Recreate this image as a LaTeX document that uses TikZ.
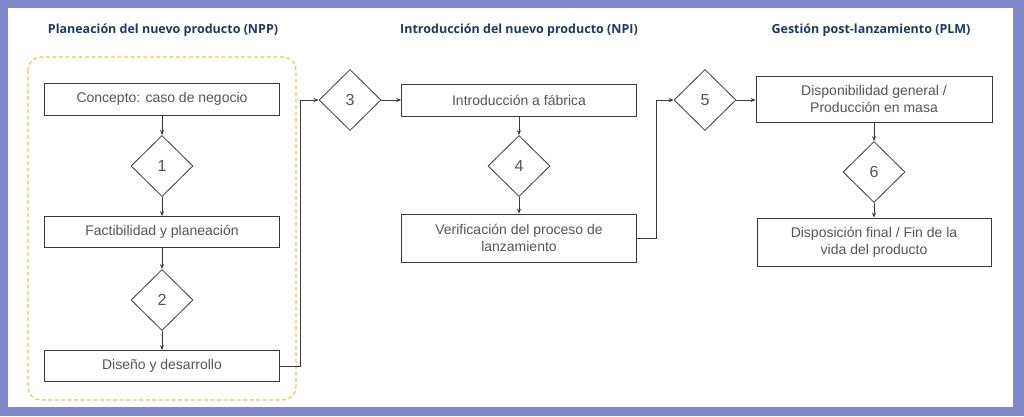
\documentclass[tikz,border=0pt]{standalone}
\usepackage{fontspec}
\setmainfont{Liberation Sans}
\newfontfamily\titlefont{Open Sans}
\usetikzlibrary{shapes.geometric,arrows.meta}
\definecolor{frame}{HTML}{8088CC}
\definecolor{ttl}{HTML}{1F3864}
\definecolor{txt}{HTML}{555555}
\definecolor{ln}{HTML}{3A3A3A}
\definecolor{dashyel}{HTML}{E8C75A}
\tikzset{
 x=1pt,y=-1pt,
 box/.style={draw=ln,line width=0.8pt,fill=white,minimum width=235pt,text=txt,font=\fontsize{14}{17}\selectfont,align=center,inner sep=2pt},
 dia/.style={draw=ln,line width=0.8pt,diamond,fill=white,minimum width=62pt,minimum height=61pt,inner sep=0pt,text=txt,font=\fontsize{16}{18}\selectfont},
 ttl/.style={text=ttl,font=\titlefont\bfseries\fontsize{12.5}{14}\selectfont},
 arr/.style={draw=ln,line width=0.8pt,-{Stealth[length=5pt,width=4pt]}},
}
\begin{document}
\begin{tikzpicture}
\fill[frame] (0,0) rectangle (1024,416);
\fill[white] (8,8) rectangle (1013,407);
\useasboundingbox (0,0) rectangle (1024,416);
\node[ttl] (t1) at (163,30) {Planeación del nuevo producto (NPP)};
\node[ttl] (t2) at (519,30) {Introducción del nuevo producto (NPI)};
\node[ttl] (t3) at (871,30) {Gestión post-lanzamiento (PLM)};
\draw[draw=dashyel,line width=1.2pt,dash pattern=on 4pt off 2.5pt,rounded corners=13pt] (28,57) rectangle (296,400);
\node[box,minimum height=32pt] (a) at (162,99) {Concepto: caso de negocio};
\node[dia] (d1) at (162,166) {1};
\node[box,minimum height=31pt] (b) at (162,232) {Factibilidad y planeación};
\node[dia] (d2) at (162,300) {2};
\node[box,minimum height=31pt] (c) at (162,366) {Diseño y desarrollo};
\node[dia] (d3) at (350,100) {3};
\node[box,minimum height=32pt] (e) at (519,100) {Introducción a fábrica};
\node[dia] (d4) at (519,166) {4};
\node[box,minimum height=48pt] (f) at (519,238) {Verificación del proceso de\\lanzamiento};
\node[dia] (d5) at (705,100) {5};
\node[box,minimum height=46pt,minimum width=236pt] (g) at (874,99) {Disponibilidad general /\\Producción en masa};
\node[dia] (d6) at (874,172) {6};
\node[box,minimum height=48pt,minimum width=234pt] (h) at (874,242) {Disposición final / Fin de la\\vida del producto};
\draw[arr] (a) -- (d1);
\draw[arr] (d1) -- (b);
\draw[arr] (b) -- (d2);
\draw[arr] (d2) -- (c);
\draw[arr] (c.east) -| (300,100) -- (d3.west);
\draw[arr] (d3) -- (e);
\draw[arr] (e) -- (d4);
\draw[arr] (d4) -- (f);
\draw[arr] (f.east) -| (656,100) -- (d5.west);
\draw[arr] (d5) -- (g.west|-d5);
\draw[arr] (g) -- (d6);
\draw[arr] (d6) -- (h);
\end{tikzpicture}
\end{document}
